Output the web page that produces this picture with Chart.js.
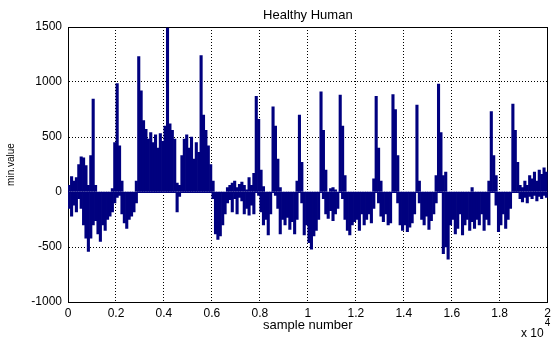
<!DOCTYPE html>
<html>
<head>
<meta charset="utf-8">
<script src="https://cdn.jsdelivr.net/npm/chart.js@4.4.0/dist/chart.umd.min.js"></script>
<style>
html,body{margin:0;padding:0;background:#fff;}
#wrap{width:555px;height:340px;}
</style>
</head>
<body>
<div id="wrap"><canvas id="c" width="555" height="340"></canvas></div>
<script>
// ---- data (one bar per 100 samples) ----
const samplesPerBar = 100;
const titleText = 'Healthy Human';
const xTitleText = 'sample number';
const yTitleText = 'min.value';
const xExponentBase = 'x 10';
const xExponentPower = '4';
const xTickLabels = ['0','0.2','0.4','0.6','0.8','1','1.2','1.4','1.6','1.8','2'];
const yTickValues = [-1000,-500,0,500,1000,1500];

// upper envelope of each 100-sample bin
const posPeaks = [
  60,140,100,130,250,320,310,240,60,330,
  845,60,0,0,0,0,0,0,30,450,
  985,420,100,0,0,0,0,0,100,1230,
  920,650,570,480,540,450,520,400,530,460,
  600,1490,620,560,480,80,60,330,480,520,
  400,500,300,450,360,1240,700,560,420,250,
  100,0,0,0,0,0,40,60,80,100,
  40,70,90,60,20,130,60,170,870,660,
  200,50,0,0,0,775,600,300,40,0,
  0,0,0,0,0,100,700,270,0,0,
  0,0,0,0,0,910,560,200,0,30,
  40,20,0,880,600,150,0,0,0,0,
  0,0,0,0,0,0,0,120,870,400,
  100,0,0,0,0,885,750,330,0,0,
  0,0,0,0,0,790,100,0,0,0,
  0,0,0,150,980,540,150,180,0,0,
  0,0,0,0,0,0,0,0,40,0,
  0,0,0,0,0,100,730,330,150,0,
  0,0,0,0,0,800,560,270,60,40,
  100,60,150,120,180,100,200,160,220,180
];
// lower envelope of each 100-sample bin
const negPeaks = [
  -150,-220,-120,-180,-60,-150,-300,-420,-540,-420,
  -300,-260,-380,-450,-300,-350,-250,-220,-180,-100,
  -50,-30,-200,-280,-330,-250,-220,-180,-100,0,
  0,0,0,0,0,0,0,0,0,0,
  0,0,0,0,0,-180,-40,0,0,0,
  0,0,0,0,0,0,0,0,0,0,
  -60,-380,-430,-400,-300,-200,-100,-70,-180,-60,
  -200,-50,-80,-200,-150,-210,-120,-200,0,-30,
  -180,-300,-250,-390,-200,0,-30,-150,-380,-250,
  -300,-230,-340,-270,-380,-250,0,-100,-390,-300,
  -460,-520,-400,-350,-250,0,-60,-200,-240,-170,
  -260,-200,-150,0,-60,-250,-350,-390,-300,-270,
  -250,-350,-200,-300,-250,-200,-280,-150,0,-100,
  -220,-270,-200,-300,-280,0,0,-100,-300,-350,
  -300,-360,-320,-280,-200,0,-100,-250,-300,-220,
  -340,-260,-200,-100,0,0,-560,-500,-610,-300,
  -250,-380,-330,-200,-390,-300,-250,-350,-270,-330,
  -250,-300,-200,-350,-250,-300,0,0,-120,-360,
  -300,-200,-330,-250,-150,0,0,0,-60,-90,
  -50,-100,-40,-60,-30,-80,-40,-60,-30,-50
];

// ---- chart ----
const barColor = '#00007f';
const fontFamily = "'Liberation Sans', Arial, Helvetica, sans-serif";
Chart.defaults.font.family = fontFamily;
Chart.defaults.color = '#000';

const binCenter = i => i * samplesPerBar + samplesPerBar / 2;
const posData = posPeaks.map((v, i) => ({x: binCenter(i), y: v}));
const negData = negPeaks.map((v, i) => ({x: binCenter(i), y: v}));

const extras = {
  id: 'extras',
  afterDatasetsDraw(chart) {
    const {ctx, chartArea, scales} = chart;
    const y0 = Math.round(scales.y.getPixelForValue(0)) + 0.5;
    ctx.save();
    ctx.strokeStyle = barColor;
    ctx.lineWidth = 1;
    ctx.beginPath();
    ctx.moveTo(chartArea.left, y0);
    ctx.lineTo(chartArea.right, y0);
    ctx.stroke();
    ctx.restore();
  },
  afterDraw(chart) {
    const {ctx, chartArea} = chart;
    ctx.save();
    ctx.fillStyle = '#000';
    ctx.textBaseline = 'alphabetic';
    ctx.font = "12px " + fontFamily;
    ctx.textAlign = 'right';
    ctx.fillText(xExponentBase, chartArea.right - 4, 337);
    ctx.font = "10px " + fontFamily;
    ctx.textAlign = 'left';
    ctx.fillText(xExponentPower, chartArea.right - 3, 326);
    ctx.restore();
  }
};

const gridDotted = {color: '#000', lineWidth: 1, drawTicks: false, offset: false};
const barStyle = {backgroundColor: barColor, borderWidth: 0, grouped: false,
                  barPercentage: 1, categoryPercentage: 1, inflateAmount: 0.35};

new Chart(document.getElementById('c'), {
  type: 'bar',
  data: {
    datasets: [
      Object.assign({data: posData, xAxisID: 'x', yAxisID: 'y'}, barStyle),
      Object.assign({data: negData, xAxisID: 'x', yAxisID: 'y'}, barStyle)
    ]
  },
  options: {
    responsive: false,
    animation: false,
    devicePixelRatio: 1,
    layout: {padding: 0},
    plugins: {legend: {display: false}, tooltip: {enabled: false}, title: {display: false}},
    scales: {
      x: {
        type: 'linear', position: 'bottom', min: 0, max: 20000, offset: false,
        ticks: {stepSize: 2000, autoSkip: false, maxRotation: 0, padding: 4, font: {size: 12},
                callback: (v, i) => xTickLabels[i]},
        grid: gridDotted,
        border: {display: true, color: '#000', width: 1, dash: [1, 2]},
        title: {display: true, text: xTitleText, font: {size: 13}, padding: {top: 0, bottom: 7}},
        afterFit: s => { s.height = 38; }
      },
      y: {
        type: 'linear', position: 'left', min: -1000, max: 1500,
        ticks: {stepSize: 500, padding: 6, font: {size: 12}, callback: v => String(v)},
        afterBuildTicks: s => { s.ticks = yTickValues.map(v => ({value: v})); },
        grid: gridDotted,
        border: {display: true, color: '#000', width: 1, dash: [1, 2]},
        title: {display: true, text: yTitleText, font: {size: 10}, padding: {top: 5, bottom: 0}},
        afterFit: s => { s.width = 68; }
      },
      x2: {
        type: 'linear', position: 'top', min: 0, max: 20000, display: true,
        ticks: {display: false},
        grid: {display: false},
        border: {display: true, color: '#000', width: 1},
        title: {display: true, text: titleText, font: {size: 13}, padding: {top: 8, bottom: 0}},
        afterFit: s => { s.height = 27; }
      },
      y2: {
        type: 'linear', position: 'right', min: -1000, max: 1500, display: true,
        ticks: {display: false},
        grid: {display: false},
        border: {display: true, color: '#000', width: 1},
        afterFit: s => { s.width = 5; }
      }
    }
  },
  plugins: [extras]
});
</script>
</body>
</html>
